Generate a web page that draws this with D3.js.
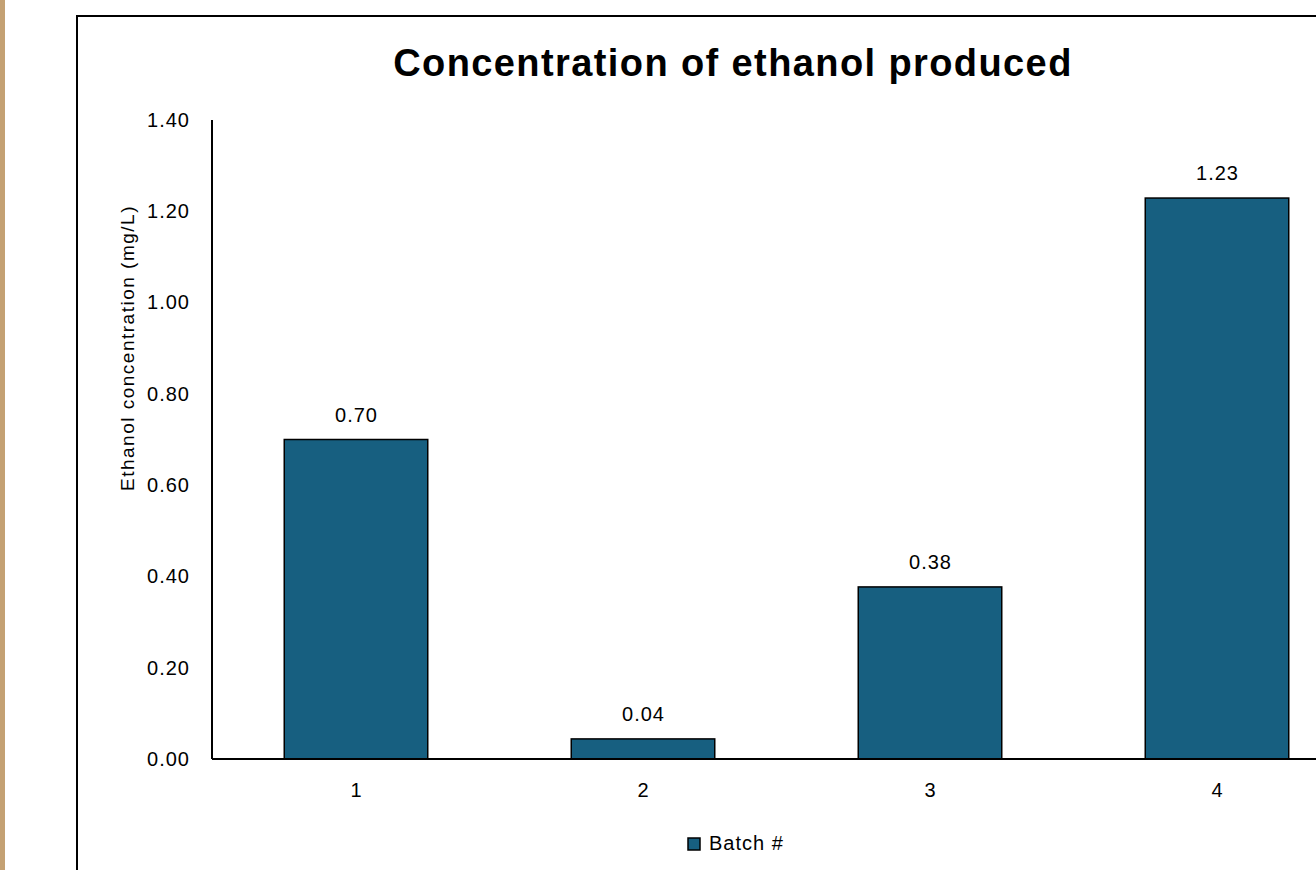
<!DOCTYPE html>
<html>
<head>
<meta charset="utf-8">
<script src="https://cdn.jsdelivr.net/npm/d3@7"></script>
<style>
  html, body { margin: 0; padding: 0; background: #ffffff; }
  svg { display: block; }
  text { font-family: "Liberation Sans", Arial, sans-serif; fill: #000; }
</style>
</head>
<body>
<svg id="chart" width="1316" height="870"></svg>
<script>
const categories = ["1", "2", "3", "4"];
const values = [0.70, 0.044, 0.377, 1.229];
const yTicks = [0, 0.2, 0.4, 0.6, 0.8, 1.0, 1.2, 1.4];
const seriesName = "Batch #";
const title = "Concentration of ethanol produced";
const yTitle = "Ethanol concentration (mg/L)";

const svg = d3.select("#chart");
const barColor = "#175f80";
const FONT = "'Liberation Sans', Arial, sans-serif";

// left decorative strip
svg.append("rect").attr("x", 0).attr("y", 0).attr("width", 5).attr("height", 870).attr("fill", "#c4a173");

// chart area border (extends beyond viewport)
svg.append("rect").attr("x", 77).attr("y", 16).attr("width", 1400).attr("height", 1000)
  .attr("fill", "#fff").attr("stroke", "#000").attr("stroke-width", 2);

const x = d3.scaleBand().domain(categories).range([212.5, 1360.5]).paddingInner(0.5).paddingOuter(0.25);
const y = d3.scaleLinear().domain([0, 1.4]).range([759, 120]);

// title
svg.append("text").attr("x", 733).attr("y", 76).attr("text-anchor", "middle")
  .style("font-size", "38px").style("font-weight", "bold").style("letter-spacing", "1.4px").text(title);

// bars
svg.selectAll("rect.bar").data(values).enter().append("rect").attr("class", "bar")
  .attr("x", (d, i) => x(categories[i]))
  .attr("y", d => y(d))
  .attr("width", x.bandwidth())
  .attr("height", d => y(0) - y(d))
  .attr("fill", barColor).attr("stroke", "#000").attr("stroke-width", 1.5);

// data labels
svg.selectAll("text.lbl").data(values).enter().append("text").attr("class", "lbl")
  .attr("x", (d, i) => x(categories[i]) + x.bandwidth() / 2 + 0.5)
  .attr("y", d => y(d) - 18)
  .attr("text-anchor", "middle").style("font-size", "20px").style("letter-spacing", "1px")
  .text(d => d3.format(".2f")(d));

// y axis
const yAxis = d3.axisLeft(y).tickValues(yTicks).tickFormat(d3.format(".2f")).tickSize(0).tickPadding(22);
const gy = svg.append("g").attr("transform", "translate(212,0)").call(yAxis);
gy.select(".domain").attr("stroke", "#000").attr("stroke-width", 2).attr("d", `M0,${y(1.4)}V${y(0)}`);
gy.selectAll("text").style("font-size", "20px").style("font-family", FONT).style("letter-spacing", "1px").attr("fill", "#000");

// x axis
const xAxis = d3.axisBottom(x).tickSize(0).tickPadding(24);
const gx = svg.append("g").attr("transform", `translate(0,${y(0)})`).call(xAxis);
gx.select(".domain").attr("stroke", "#000").attr("stroke-width", 2).attr("d", `M212,0H1400`);
gx.selectAll("text").style("font-size", "20px").style("font-family", FONT).attr("fill", "#000");

// y title
svg.append("text").attr("transform", "translate(134,348) rotate(-90)")
  .attr("text-anchor", "middle").style("font-size", "19px").style("letter-spacing", "1.5px").text(yTitle);

// legend
svg.append("rect").attr("x", 688).attr("y", 838).attr("width", 12).attr("height", 12)
  .attr("fill", barColor).attr("stroke", "#000").attr("stroke-width", 1.5);
svg.append("text").attr("x", 709).attr("y", 850).style("font-size", "20px").style("letter-spacing", "1px").text(seriesName);
</script>
</body>
</html>
